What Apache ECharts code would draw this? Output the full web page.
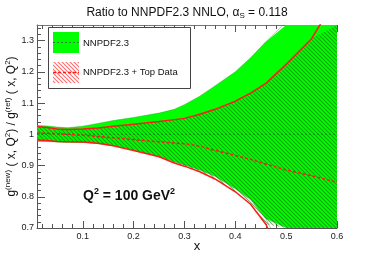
<!DOCTYPE html>
<html><head><meta charset="utf-8">
<script src="https://cdn.jsdelivr.net/npm/echarts@6/dist/echarts.min.js"></script>
<style>html,body{margin:0;padding:0;background:#fff}#c{width:374px;height:253px}</style>
</head><body><div id="c"></div>
<script>
// ---- data ----
const xs           = [0.01, 0.03, 0.05, 0.07, 0.10, 0.13, 0.16, 0.20, 0.25, 0.28, 0.30, 0.33, 0.36, 0.40, 0.43, 0.46, 0.50, 0.55, 0.60];
const greenUpper   = [1.028,1.027,1.023,1.021,1.026,1.035,1.044,1.054,1.068,1.080,1.095,1.122,1.155,1.200,1.245,1.296,1.360,1.460,1.580];
const greenLower   = [0.977,0.977,0.975,0.974,0.974,0.970,0.963,0.949,0.930,0.912,0.902,0.886,0.866,0.826,0.791,0.730,0.600,0.450,0.280];
const greenCentral = [1.000,1.000,1.000,1.000,1.000,1.000,1.000,1.000,1.000,1.000,1.000,1.000,1.000,1.000,1.000,1.000,1.000,1.000,1.000];
const topUpper     = [1.025,1.022,1.017,1.015,1.017,1.020,1.026,1.032,1.041,1.047,1.051,1.064,1.080,1.106,1.132,1.163,1.224,1.306,1.440];
const topLower     = [0.982,0.980,0.977,0.976,0.975,0.971,0.963,0.948,0.928,0.908,0.898,0.880,0.857,0.816,0.776,0.712,0.580,0.420,0.250];
const topCentral   = [1.004,1.003,1.002,1.000,0.997,0.993,0.989,0.983,0.976,0.972,0.970,0.962,0.949,0.932,0.920,0.905,0.886,0.867,0.846];
const xMajorTicks  = [0.1, 0.2, 0.3, 0.4, 0.5, 0.6];
const xMinorTicks  = [0.02,0.04,0.06,0.08,0.12,0.14,0.16,0.18,0.22,0.24,0.26,0.28,0.32,0.34,0.36,0.38,0.42,0.44,0.46,0.48,0.52,0.54,0.56,0.58];
const yMajorTicks  = [0.7, 0.8, 0.9, 1.0, 1.1, 1.2, 1.3];
const yMinorTicks  = [0.72,0.74,0.76,0.78,0.82,0.84,0.86,0.88,0.92,0.94,0.96,0.98,1.02,1.04,1.06,1.08,1.12,1.14,1.16,1.18,1.22,1.24,1.26,1.28,1.32,1.34];
const legendLabels = ['NNPDF2.3', 'NNPDF2.3 + Top Data'];

const FONT = '"Liberation Sans", Arial, Helvetica, sans-serif';
const AXC = '#555';

function hatch(color, bg) {
  const s = 4, c = document.createElement('canvas'); c.width = s; c.height = s;
  const g = c.getContext('2d');
  if (bg) { g.fillStyle = bg; g.fillRect(0, 0, s, s); }
  g.strokeStyle = color; g.lineWidth = 1.1;
  g.beginPath();
  g.moveTo(-1, -1); g.lineTo(s + 1, s + 1);
  g.moveTo(-1, s - 1); g.lineTo(1, s + 1);
  g.moveTo(s - 1, -1); g.lineTo(s + 1, 1);
  g.stroke();
  return c;
}
const bandHatch = { image: hatch('rgba(30,110,20,0.6)'), repeat: 'repeat' };
const legendHatch = { image: hatch('rgba(255,60,60,0.75)', '#fff'), repeat: 'repeat' };

function bandSeries(lower, upper, fill, z) {
  return {
    type: 'custom', z: z, silent: true, animation: false,
    data: xs.map((x, i) => [x, lower[i], upper[i]]),
    encode: { x: 0, y: [1, 2] },
    renderItem(params, api) {
      if (params.dataIndex !== 0) return null;
      const pts = [];
      for (let i = 0; i < xs.length; i++) pts.push(api.coord([xs[i], upper[i]]));
      for (let i = xs.length - 1; i >= 0; i--) pts.push(api.coord([xs[i], lower[i]]));
      const cs = params.coordSys;
      const clipped = echarts.graphic.clipPointsByRect(pts, { x: cs.x, y: cs.y, width: cs.width, height: cs.height });
      return { type: 'polygon', shape: { points: clipped }, style: { fill: fill, stroke: null } };
    }
  };
}
function lineSeries(ys, color, width, type, z) {
  return {
    type: 'line', data: xs.map((x, i) => [x, ys[i]]), symbol: 'none', showSymbol: false,
    lineStyle: { color: color, width: width, type: type }, z: z, silent: true, animation: false, clip: true
  };
}

const majorTick = (vals, len) => ({ show: true, inside: true, length: len, customValues: vals, lineStyle: { color: AXC, width: 1 } });

const chart = echarts.init(document.getElementById('c'), null, { renderer: 'canvas' });
chart.setOption({
  animation: false,
  title: {
    text: 'Ratio to NNPDF2.3 NNLO, {g|α}{s|S} = 0.118', left: 'center', top: 1,
    textStyle: { fontFamily: FONT, fontSize: 12, fontWeight: 'normal', color: '#111',
      rich: { g: { fontFamily: FONT, fontSize: 12, color: '#111' }, s: { fontFamily: FONT, fontSize: 8, color: '#111', padding: [6, 0, 0, 0] } } }
  },
  grid: { left: 37, right: 37, top: 25, bottom: 25, containLabel: false, outerBoundsMode: 'none' },
  xAxis: [
    { type: 'value', min: 0.01, max: 0.6, position: 'bottom',
      axisLine: { show: true, onZero: false, lineStyle: { color: AXC, width: 1 } },
      axisTick: majorTick(xMajorTicks, 7),
      axisLabel: { customValues: xMajorTicks, formatter: v => String(+v.toFixed(2)), fontFamily: FONT, fontSize: 9, color: '#222', margin: 4 },
      splitLine: { show: false },
      name: 'x', nameLocation: 'middle', nameGap: 12, nameMoveOverlap: false,
      nameTextStyle: { fontFamily: FONT, fontSize: 13, color: '#111', padding: [0, 0, 0, 20] } },
    { type: 'value', min: 0.01, max: 0.6, position: 'bottom',
      axisLine: { show: false }, axisTick: majorTick(xMinorTicks, 4), axisLabel: { show: false }, splitLine: { show: false } },
    { type: 'value', min: 0.01, max: 0.6, position: 'top',
      axisLine: { show: true, onZero: false, lineStyle: { color: '#777', width: 1 } },
      axisTick: majorTick(xMajorTicks, 7), axisLabel: { show: false }, splitLine: { show: false } },
    { type: 'value', min: 0.01, max: 0.6, position: 'top',
      axisLine: { show: false }, axisTick: majorTick(xMinorTicks, 4), axisLabel: { show: false }, splitLine: { show: false } }
  ],
  yAxis: [
    { type: 'value', min: 0.7, max: 1.35, position: 'left',
      axisLine: { show: true, onZero: false, lineStyle: { color: AXC, width: 1 } },
      axisTick: majorTick(yMajorTicks, 8),
      axisLabel: { customValues: yMajorTicks, formatter: v => String(+v.toFixed(2)), fontFamily: FONT, fontSize: 9, color: '#222', margin: 3 },
      splitLine: { show: false },
      name: '{n|g}{p|(new)}{n| ( x, Q}{p|2}{n|) / g}{p|(ref)}{n| ( x, Q}{p|2}{n|)}',
      nameLocation: 'middle', nameGap: 17, nameRotate: 90, nameMoveOverlap: false,
      nameTextStyle: { fontFamily: FONT, fontSize: 12, color: '#111',
        rich: { n: { fontFamily: FONT, fontSize: 12, color: '#111' }, p: { fontFamily: FONT, fontSize: 8, color: '#111', padding: [0, 0, 8, 0] } } } },
    { type: 'value', min: 0.7, max: 1.35, position: 'left',
      axisLine: { show: false }, axisTick: majorTick(yMinorTicks, 4), axisLabel: { show: false }, splitLine: { show: false } }
  ],
  series: [
    bandSeries(greenLower, greenUpper, '#00ff00', 1),
    bandSeries(topLower, topUpper, bandHatch, 2),
    lineSeries(greenUpper, 'rgba(20,150,20,0.55)', 0.7, 'solid', 3),
    lineSeries(greenLower, 'rgba(20,150,20,0.55)', 0.7, 'solid', 3),
    lineSeries(greenCentral, '#2b7a2b', 1, [2, 2], 4),
    lineSeries(topUpper, '#ff1a1a', 1.5, 'solid', 5),
    lineSeries(topLower, '#ff1a1a', 1.5, 'solid', 5),
    lineSeries(topCentral, '#ff1a1a', 1.5, [3, 2], 5)
  ],
  graphic: [
    { type: 'rect', shape: { x: 48.5, y: 27.5, width: 142, height: 61 }, style: { fill: '#fff', stroke: '#444', lineWidth: 1 }, z: 10 },
    { type: 'rect', shape: { x: 53, y: 32, width: 26, height: 21 }, style: { fill: '#00ff00' }, z: 11 },
    { type: 'line', shape: { x1: 53, y1: 42.5, x2: 79, y2: 42.5 }, style: { stroke: '#2b7a2b', lineWidth: 1, lineDash: [2, 2] }, z: 12 },
    { type: 'rect', shape: { x: 53, y: 62, width: 26, height: 21 }, style: { fill: legendHatch }, z: 11 },
    { type: 'line', shape: { x1: 53, y1: 72.5, x2: 79, y2: 72.5 }, style: { stroke: '#ff1a1a', lineWidth: 1.5, lineDash: [3, 2] }, z: 12 },
    { type: 'text', x: 83, y: 43, style: { text: legendLabels[0], font: '9.5px ' + FONT, fill: '#111', verticalAlign: 'middle' }, z: 12 },
    { type: 'text', x: 83, y: 72.5, style: { text: legendLabels[1], font: '9.5px ' + FONT, fill: '#111', verticalAlign: 'middle' }, z: 12 },
    { type: 'text', x: 83, y: 196, z: 12,
      style: { text: '{b|Q}{s|2}{b| = 100 GeV}{s|2}', verticalAlign: 'middle',
        rich: { b: { fontFamily: FONT, fontSize: 14, fontWeight: 'bold', fill: '#111' }, s: { fontFamily: FONT, fontSize: 9, fontWeight: 'bold', fill: '#111', padding: [0, 0, 9, 0] } } } }
  ]
});
</script></body></html>
